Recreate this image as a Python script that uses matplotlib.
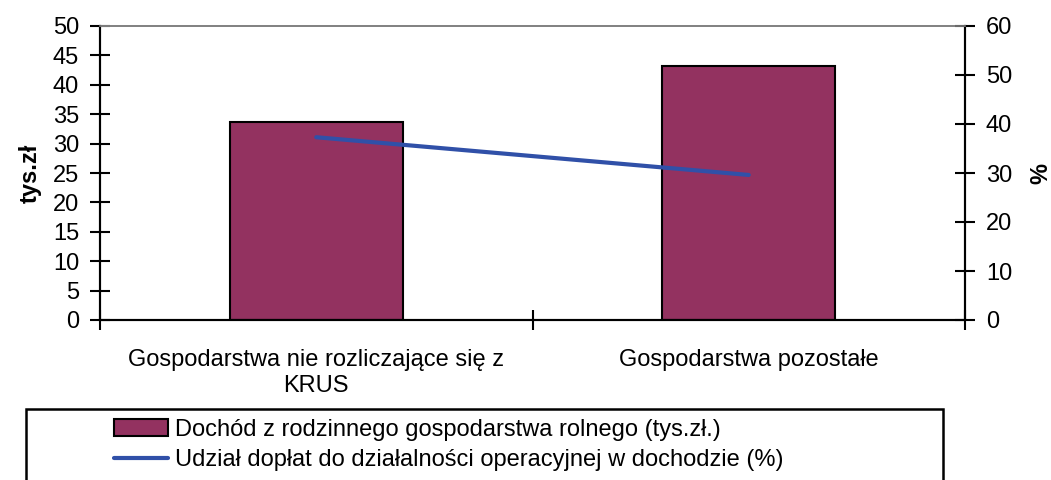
import matplotlib
matplotlib.use("Agg")
import matplotlib.pyplot as plt
from matplotlib.patches import Rectangle
import numpy as np

plt.rcParams['font.family'] = ['Liberation Sans', 'DejaVu Sans']

categories = ["Gospodarstwa nie rozliczające się z\nKRUS", "Gospodarstwa pozostałe"]
income = [33.7, 43.2]          # tys.zł
share = [37.3, 29.6]           # %
bar_label = "Dochód z rodzinnego gospodarstwa rolnego (tys.zł.)"
line_label = "Udział dopłat do działalności operacyjnej w dochodzie (%)"
left_ticks = list(range(0, 51, 5))
right_ticks = list(range(0, 61, 10))

W, H = 1051, 480
fig = plt.figure(figsize=(W / 100, H / 100), dpi=100)
ax = fig.add_axes([100 / W, 1 - 320 / H, 865 / W, 294 / H])
ax2 = ax.twinx()

x = np.arange(len(categories))
bars = ax.bar(x, income, width=0.4, color="#933260", edgecolor="black", linewidth=1.5,
              label=bar_label, zorder=2)
line, = ax2.plot(x, share, color="#3050A8", linewidth=3, solid_capstyle="round",
                 label=line_label, zorder=3)

ax.set_xlim(-0.5, len(categories) - 0.5)
ax.set_ylim(0, 50)
ax2.set_ylim(0, 60)
ax.set_yticks(left_ticks)
ax2.set_yticks(right_ticks)

fs = 17
ax.set_xticks([-0.5, 0.5, 1.5])
ax.set_xticklabels([])
ax.set_xticks(x, minor=True)
ax.set_xticklabels(categories, minor=True, fontsize=fs, linespacing=1.25)
ax.tick_params(axis="x", which="minor", length=0, pad=21)
ax.tick_params(axis="x", which="major", direction="inout", length=14, width=1.5)
ax.tick_params(axis="y", direction="inout", length=14, width=1.5, labelsize=fs, pad=8)
ax2.tick_params(axis="y", direction="inout", length=14, width=1.5, labelsize=fs, pad=8)

for a in (ax, ax2):
    a.spines["top"].set_color("#808080")
    a.spines["top"].set_linewidth(1.2)
    a.spines["left"].set_linewidth(1.5)
    a.spines["right"].set_linewidth(1.5)
    a.spines["bottom"].set_linewidth(1.5)

ax.set_ylabel("tys.zł", fontsize=fs, fontweight="bold", labelpad=8)
ax2.set_ylabel("%", fontsize=fs, fontweight="bold", labelpad=12, rotation=90)

ax.set_zorder(ax2.get_zorder() - 1)
ax.patch.set_visible(True)
ax2.patch.set_visible(False)

# legend box
fig.patches.append(Rectangle((26 / W, -0.1), (943 - 26) / W, 0.1 + (1 - 409 / H),
                             transform=fig.transFigure, fill=False, edgecolor="black",
                             linewidth=1.8, zorder=5))
fig.legend([bars, line], [bar_label, line_label], loc="upper left",
           bbox_to_anchor=(114 / W, 1 - 419 / H), frameon=False, fontsize=fs,
           handlelength=2.3, handleheight=0.75, handletextpad=0.3, labelspacing=0.35,
           borderpad=0.0, borderaxespad=0.0)

fig.savefig("out.png", dpi=100)
